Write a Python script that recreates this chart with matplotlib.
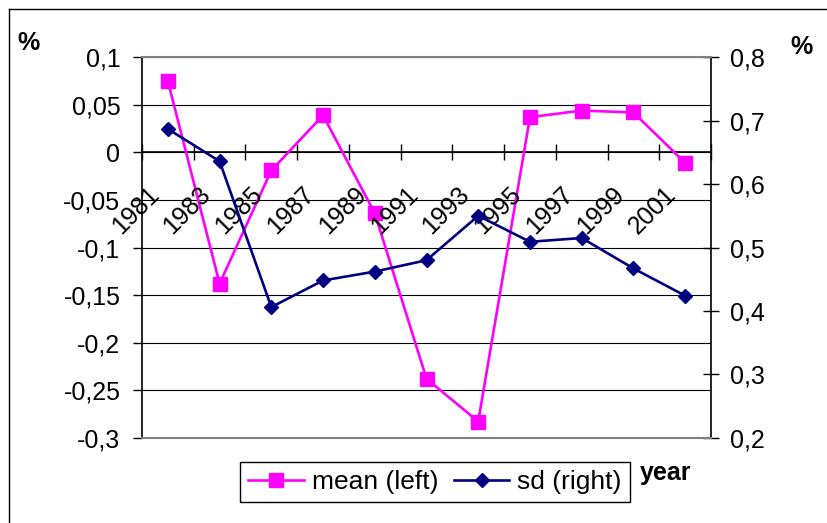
import matplotlib
matplotlib.use("Agg")
from matplotlib import pyplot as plt
from matplotlib.lines import Line2D
from matplotlib.transforms import ScaledTranslation

plt.rcParams['font.family'] = ['Liberation Sans', 'DejaVu Sans']

# data
years = [1981, 1983, 1985, 1987, 1989, 1991, 1993, 1995, 1997, 1999, 2001]
mean = [0.075, -0.138, -0.019, 0.039, -0.064, -0.238, -0.283, 0.037, 0.044, 0.042, -0.011]
sd = [0.687, 0.636, 0.406, 0.448, 0.462, 0.480, 0.550, 0.509, 0.515, 0.467, 0.424]
left_ticks = [0.1, 0.05, 0, -0.05, -0.1, -0.15, -0.2, -0.25, -0.3]
right_ticks = [0.8, 0.7, 0.6, 0.5, 0.4, 0.3, 0.2]

W, H = 828, 523
fig = plt.figure(figsize=(W / 100, H / 100), dpi=100)
ax = fig.add_axes([142 / W, 1 - 437.7 / H, (711 - 142) / W, (437.7 - 57.3) / H])
ax2 = ax.twinx()

xpos = list(range(len(years)))
ax.plot(xpos, mean, color='#FF00FF', lw=1.9, marker='s', ms=10.5, label='mean (left)', zorder=3)
ax2.plot(xpos, sd, color='#000080', lw=1.9, marker='D', ms=7, label='sd (right)', zorder=3)

ax.set_xlim(-0.5, len(years) - 0.5)
ax.set_ylim(-0.3, 0.1)
ax2.set_ylim(0.2, 0.8)

# left axis
ax.set_yticks(left_ticks)
ax.set_yticklabels([('%g' % v).replace('.', ',') for v in left_ticks])
ax.tick_params(axis='y', direction='out', length=6.5, width=1, pad=9, labelsize=18)
ax.yaxis.grid(True, color='black', lw=0.8)
ax.set_axisbelow(True)

# category axis crossing at 0
ax.spines['bottom'].set_position(('data', 0))
ax.spines['bottom'].set_linewidth(1.2)
ax.spines['left'].set_linewidth(1.2)
ax.spines['top'].set_visible(False)
ax.spines['right'].set_visible(False)
ax.set_xticks([k - 0.5 for k in range(len(years) + 1)])
ax.set_xticklabels([])
ax.tick_params(axis='x', direction='inout', length=11, width=1)
for i, yr in enumerate(years):
    off = ScaledTranslation(13.3 / 100, -38.3 / 100, fig.dpi_scale_trans)
    ax.text(i - 0.5, 0, str(yr), transform=ax.transData + off, rotation=45,
            rotation_mode='anchor', ha='right', va='center', fontsize=18)

# right axis
ax2.set_yticks(right_ticks)
ax2.set_yticklabels([('%g' % v).replace('.', ',') for v in right_ticks])
ax2.tick_params(axis='y', direction='inout', length=12, width=1, pad=8, labelsize=18)
ax2.spines['left'].set_visible(False)
ax2.spines['right'].set_linewidth(1.2)
ax2.spines['top'].set_color('#808080')
ax2.spines['bottom'].set_color('#808080')
ax2.spines['top'].set_linewidth(1.5)
ax2.spines['bottom'].set_linewidth(1.5)

# legend
h1, l1 = ax.get_legend_handles_labels()
h2, l2 = ax2.get_legend_handles_labels()
leg = fig.legend(h1 + h2, l1 + l2, loc='center', bbox_to_anchor=(435 / W, 1 - 482 / H),
                 ncol=2, fontsize=19, frameon=True, fancybox=False, framealpha=1,
                 handlelength=2.1, handletextpad=0.3, columnspacing=0.6,
                 borderpad=0.3, borderaxespad=0)
leg.get_frame().set_edgecolor('black')
leg.get_frame().set_linewidth(1)

fig.text(640 / W, 1 - 473 / H, 'year', fontsize=18, fontweight='bold', ha='left', va='center')
fig.text(29 / W, 1 - 43 / H, '%', fontsize=18, fontweight='bold', ha='center', va='center')
fig.text(802 / W, 1 - 47 / H, '%', fontsize=18, fontweight='bold', ha='center', va='center')

# outer chart border (only left and top edges are inside the picture)
fig.add_artist(Line2D([9.3 / W, 9.3 / W], [0, 1 - 9.3 / H], color='black', lw=1))
fig.add_artist(Line2D([9.3 / W, 1], [1 - 9.3 / H, 1 - 9.3 / H], color='black', lw=1))

fig.savefig('out.png', dpi=100)
